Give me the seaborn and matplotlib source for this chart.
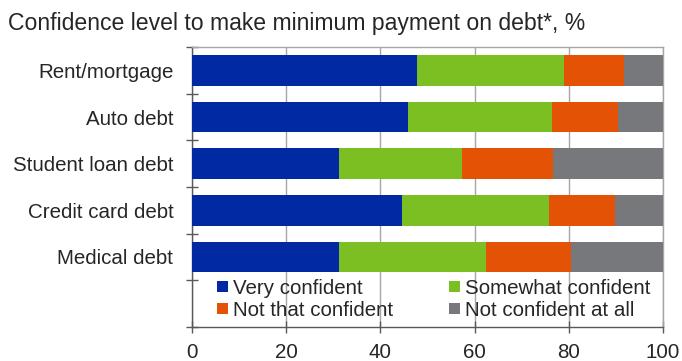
import matplotlib
matplotlib.use("Agg")
import matplotlib.pyplot as plt
import seaborn as sns
import pandas as pd
import numpy as np
from matplotlib.patches import Patch

# Survey shares (%) by debt type
categories = ["Rent/mortgage", "Auto debt", "Student loan debt", "Credit card debt", "Medical debt"]
very_confident = [47.8, 45.9, 31.2, 44.6, 31.2]
somewhat_confident = [31.2, 30.5, 26.1, 31.3, 31.3]
not_that_confident = [12.8, 14.0, 19.4, 14.0, 18.0]
not_confident_at_all = [8.2, 9.6, 23.3, 10.1, 19.5]

series_names = ["Very confident", "Somewhat confident", "Not that confident", "Not confident at all"]
series_values = [very_confident, somewhat_confident, not_that_confident, not_confident_at_all]
colors = ["#0029A3", "#7BBF22", "#E35205", "#76787B"]

sns.set_theme(style="white")
plt.rcParams["font.family"] = ["Liberation Sans", "DejaVu Sans"]
text_color = "#262626"

fig = plt.figure(figsize=(6.82, 3.61), dpi=100)
ax = fig.add_axes([192 / 682, 1 - 327 / 361, 471 / 682, 280 / 361])

# Stacked bars: draw cumulative totals from the outermost segment inwards
cum = np.cumsum(np.array(series_values), axis=0)
for i in range(len(series_names) - 1, -1, -1):
    df = pd.DataFrame({"category": categories, "value": cum[i]})
    sns.barplot(data=df, x="value", y="category", orient="h", color=colors[i],
                saturation=1, width=0.66, linewidth=0, ax=ax, zorder=3)

ax.set_xlim(0, 100)
ax.set_ylim(5.5, -0.5)
ax.set_xlabel("")
ax.set_ylabel("")

ax.set_xticks([0, 20, 40, 60, 80, 100])
ax.tick_params(axis="x", direction="inout", length=8, width=1, color="#595959",
               labelsize=14.8, labelcolor=text_color, pad=7.5, bottom=True)
ax.xaxis.grid(True, color="#A6A6A6", linewidth=1)
ax.set_axisbelow(True)

ax.set_yticks(range(len(categories)))
ax.set_yticklabels(categories)
ax.set_yticks(np.arange(-0.5, 6.0, 1.0), minor=True)
ax.tick_params(axis="y", which="major", length=0, labelsize=14.8,
               labelcolor=text_color, pad=13.5)
ax.tick_params(axis="y", which="minor", direction="inout", length=8, width=1,
               color="#595959", left=True)

for side in ["top", "right"]:
    ax.spines[side].set_color("#A6A6A6")
    ax.spines[side].set_linewidth(1)
for side in ["left", "bottom"]:
    ax.spines[side].set_color("#595959")
    ax.spines[side].set_linewidth(1)

# Legend laid out row by row: legend fills columns first, so interleave
order = [0, 2, 1, 3]
handles = [Patch(facecolor=colors[k], edgecolor="none", label=series_names[k]) for k in order]
ax.legend(handles=handles, ncol=2, frameon=False, loc="upper left",
          bbox_to_anchor=(25 / 471, (327 - 279) / 280), fontsize=14.8,
          handlelength=0.54, handleheight=0.45, handletextpad=0.25,
          columnspacing=2.7, labelspacing=0.15, borderpad=0, borderaxespad=0,
          labelcolor=text_color)

fig.text(8 / 682, 1 - 30 / 361, "Confidence level to make minimum payment on debt*, %",
         fontsize=16.6, color=text_color, va="baseline", ha="left")

fig.savefig("out.png", dpi=100)
